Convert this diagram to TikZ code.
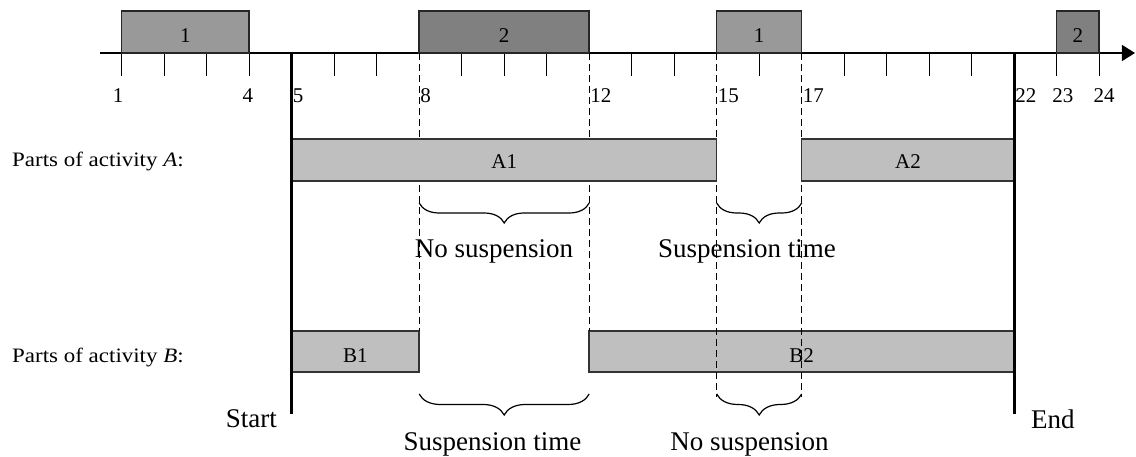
\documentclass[tikz,border=0pt]{standalone}
\usepackage{fontspec}
\newfontfamily\reffont{Liberation Serif}
\newfontfamily\widefont[FakeStretch=1.12]{Liberation Serif}
\usetikzlibrary{arrows.meta,decorations.pathreplacing}
\begin{document}
% one x unit = one time unit; y runs downward in points
\begin{tikzpicture}[x=42.5pt,y=-1pt,
  txt/.style={inner sep=0pt,font=\reffont\fontsize{21pt}{21pt}\selectfont},
  parttxt/.style={inner sep=0pt,font=\widefont\fontsize{20.5pt}{20.5pt}\selectfont},
  bracetxt/.style={inner sep=0pt,font=\reffont\fontsize{27pt}{27pt}\selectfont},
  tickmark/.style={line width=1.2pt},
  axisline/.style={line width=1.5pt,-{Triangle[length=13pt,width=16pt]}},
  machineone/.style={draw=black!85,line width=1.5pt,fill=black!40},
  machinetwo/.style={draw=black!85,line width=1.5pt,fill=black!50},
  partbar/.style={draw=black!80,line width=1.5pt,fill=black!25},
  boundary/.style={line width=3.4pt},
  guide/.style={line width=1.2pt,dash pattern=on 7pt off 4pt},
  curly/.style={line width=1.2pt,decorate,decoration={brace,mirror,amplitude=#1}}]
\useasboundingbox (-1.8635,0) rectangle (24.866,457);

% time axis with ticks
\foreach \t in {1,2,3,4,6,7,9,10,11,13,14,16,18,19,20,21,23,24}
  \draw[tickmark] (\t,53) -- (\t,76);
\draw[axisline] (0.4894,53) -- (24.842,53);

% machine availability blocks
\draw[machineone] (1,11) rectangle (4,53);
\draw[machinetwo] (8,11) rectangle (12,53);
\draw[machineone] (15,11) rectangle (17,53);
\draw[machinetwo] (23,11) rectangle (24,53);
\node[txt,anchor=base] (m1a) at (2.5,43) {1};
\node[txt,anchor=base] (m2a) at (10,43) {2};
\node[txt,anchor=base] (m1b) at (16,43) {1};
\node[txt,anchor=base] (m2b) at (23.5,43) {2};

% tick labels
\node[txt,anchor=base] (l1) at (0.915,103) {1};
\node[txt,anchor=base] (l4) at (3.97,103) {4};
\foreach \t in {5,8,12,15,17,22}
  \node[txt,anchor=base west,xshift=1pt] (l\t) at (\t,103) {\t};
\node[txt,anchor=base] (l23) at (23.148,103) {23};
\node[txt,anchor=base] (l24) at (24.114,103) {24};

% parts of activity B (below the guides)
\draw[partbar] (5,331) rectangle (8,372);
\draw[partbar] (12,331) rectangle (22,372);

% dashed guides
\draw[guide] (8,53) -- (8,331);
\draw[guide] (12,53) -- (12,331);
\draw[guide] (15,53) -- (15,397);
\draw[guide] (17,53) -- (17,397);

% parts of activity A (over the guides)
\draw[partbar] (5,139) rectangle (15,181);
\draw[partbar] (17,139) rectangle (22,181);

% start and end lines
\draw[boundary] (5,53) -- (5,414);
\draw[boundary] (22,53) -- (22,414);

% bar labels
\node[txt,anchor=base] (a1) at (10,169) {A1};
\node[txt,anchor=base] (a2) at (19.5,169) {A2};
\node[txt,anchor=base] (b1) at (6.5,362) {B1};
\node[txt,anchor=base] (b2) at (17,362) {B2};

% row labels
\node[parttxt,anchor=base west] (rowa) at (-1.581,167) {Parts of activity \textit{A}:};
\node[parttxt,anchor=base west] (rowb) at (-1.581,362) {Parts of activity \textit{B}:};

% braces
\draw[curly=20pt] (8,203) -- (12,203);
\draw[curly=20pt] (15,203) -- (17,203);
\draw[curly=21pt] (8,394) -- (12,394);
\draw[curly=21pt] (15,394) -- (17,394);
\node[bracetxt,anchor=base] (ns1) at (9.76,258) {No suspension};
\node[bracetxt,anchor=base] (st1) at (15.713,258) {Suspension time};
\node[bracetxt,anchor=base] (st2) at (9.725,450) {Suspension time};
\node[bracetxt,anchor=base] (ns2) at (15.772,450) {No suspension};

% start / end labels
\node[bracetxt,anchor=base east] (start) at (4.654,427) {Start};
\node[bracetxt,anchor=base west] (end) at (22.395,428) {End};
\end{tikzpicture}
\end{document}
